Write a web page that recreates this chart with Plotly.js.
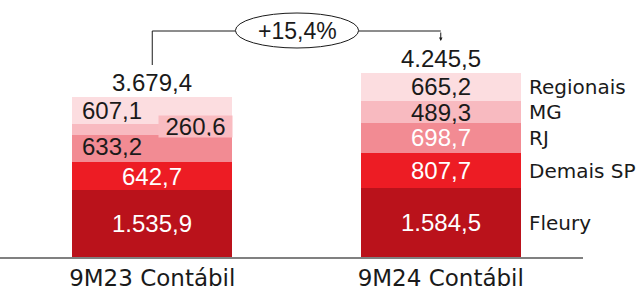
<!DOCTYPE html>
<html>
<head>
<meta charset="utf-8">
<script src="https://cdn.plot.ly/plotly-3.0.1.min.js"></script>
<style>html,body{margin:0;padding:0;background:#fff;}#chart{width:641px;height:291px;}</style>
</head>
<body>
<div id="chart"></div>
<script>
// ---- data ----
var categories = ['9M23 Contábil', '9M24 Contábil'];
var seriesNames = ['Fleury', 'Demais SP', 'RJ', 'MG', 'Regionais'];
var fleury = [1535.9, 1584.5];
var demaisSP = [642.7, 807.7];
var rj = [633.2, 698.7];
var mg = [260.6, 489.3];
var regionais = [607.1, 665.2];
var totals = [3679.4, 4245.5];
var growthLabel = '+15,4%';

// ---- styles ----
var colors = ['#BA121B', '#ED1C24', '#F28B93', '#F8BAC0', '#FCDDE0'];
var labelColors = [['#ffffff', '#ffffff'], ['#ffffff', '#ffffff'], ['#1a1a1a', '#ffffff'], ['#1a1a1a', '#1a1a1a'], ['#1a1a1a', '#1a1a1a']];
var labelShiftX = [[0, 0], [0, 0], [-40, 0], [43, 0], [-40, 0]];
var labelShiftY = [[0, 0], [0, 0], [2, 0], [3, 0], [0, 0]];
var numFont = 'Liberation Sans, Arial, sans-serif';
var txtFont = 'DejaVu Sans, sans-serif';

function fmt(v) {
  var parts = v.toFixed(1).split('.');
  var intPart = parts[0].replace(/\B(?=(\d{3})+(?!\d))/g, '.');
  return intPart + ',' + parts[1];
}

var series = [fleury, demaisSP, rj, mg, regionais];
var traces = series.map(function (vals, i) {
  return {
    type: 'bar', x: categories, y: vals, name: seriesNames[i],
    marker: {color: colors[i], line: {width: 0}}, width: 0.5556,
    hoverinfo: 'skip', showlegend: false
  };
});

var annotations = [];
var cum = [0, 0];
series.forEach(function (vals, i) {
  vals.forEach(function (v, j) {
    var mid = cum[j] + v / 2;
    var a = {
      x: categories[j], y: mid, xref: 'x', yref: 'y', text: fmt(v), showarrow: false,
      xanchor: 'center', yanchor: 'middle',
      xshift: labelShiftX[i][j], yshift: labelShiftY[i][j],
      font: {family: numFont, size: 24, color: labelColors[i][j]}
    };
    if (i === 3 && j === 0) {
      a.bgcolor = '#F9BCC1'; a.width = 71; a.height = 19; a.borderpad = 1;
    }
    annotations.push(a);
    cum[j] += v;
  });
});
// legend labels beside second bar
series.forEach(function (vals, i) {
  var base = 0;
  for (var k = 0; k < i; k++) base += series[k][1];
  annotations.push({
    x: categories[1], y: base + vals[1] / 2, xref: 'x', yref: 'y', xanchor: 'left', yanchor: 'middle',
    xshift: 86, text: seriesNames[i], showarrow: false,
    font: {family: txtFont, size: 20, color: '#1a1a1a'}
  });
});
// totals
totals.forEach(function (t, j) {
  annotations.push({
    x: categories[j], y: t, xref: 'x', yref: 'y', xanchor: 'center', yanchor: 'bottom', yshift: -1,
    text: fmt(t), showarrow: false, font: {family: numFont, size: 24, color: '#1a1a1a'}
  });
});
// growth
annotations.push({
  x: 0.5017, y: 1 - 30.5 / 257, xref: 'x', yref: 'paper', xanchor: 'center', yanchor: 'middle',
  text: growthLabel, showarrow: false,
  font: {family: numFont, size: 23, color: '#1a1a1a'}
});
// arrow to right bar
annotations.push({
  x: 1, y: 1 - 41 / 257, xref: 'x', yref: 'paper', text: '', showarrow: true,
  ax: 0, ay: -10, arrowhead: 2, arrowsize: 0.7, arrowwidth: 1, arrowcolor: '#1a1a1a'
});

var yLine = 1 - 31 / 257;
var shapes = [
  {type: 'line', xref: 'x', yref: 'paper', x0: 0, x1: 0, y0: 1 - 65 / 257, y1: yLine, line: {color: '#1a1a1a', width: 1}},
  {type: 'line', xref: 'x', yref: 'paper', x0: 0, x1: 0.2882, y0: yLine, y1: yLine, line: {color: '#1a1a1a', width: 1}},
  {type: 'line', xref: 'x', yref: 'paper', x0: 0.7153, x1: 1, y0: yLine, y1: yLine, line: {color: '#1a1a1a', width: 1}},
  {type: 'circle', xref: 'x', yref: 'paper', x0: 0.2882, x1: 0.7153, y0: 1 - 48 / 257, y1: 1 - 13 / 257, line: {color: '#1a1a1a', width: 1}, fillcolor: 'rgba(0,0,0,0)'}
];

var layout = {
  width: 641, height: 291,
  margin: {l: 0, r: 58, t: 0, b: 34, pad: 0},
  paper_bgcolor: '#ffffff', plot_bgcolor: '#ffffff',
  barmode: 'stack', bargap: 0,
  showlegend: false,
  xaxis: {
    type: 'category', range: [-0.5278, 1.4931], showline: true, linecolor: '#808080', linewidth: 1.5,
    ticks: '', showgrid: false, zeroline: false, fixedrange: true,
    tickfont: {family: txtFont, size: 23, color: '#1a1a1a'}
  },
  yaxis: {range: [0, 5915], visible: false, fixedrange: true},
  annotations: annotations,
  shapes: shapes
};

Plotly.newPlot('chart', traces, layout, {displayModeBar: false, staticPlot: true});
</script>
</body>
</html>
